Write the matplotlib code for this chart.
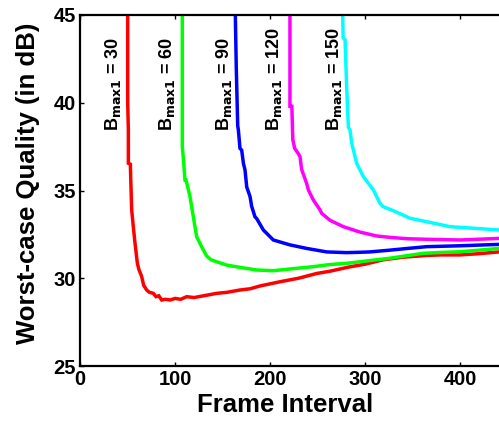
import matplotlib
matplotlib.use("Agg")
import matplotlib.pyplot as plt

plt.rcParams['font.family'] = ['Liberation Sans', 'DejaVu Sans']
plt.rcParams['font.weight'] = 'bold'
plt.rcParams['mathtext.default'] = 'bf'

# ---- data ----
x30 = [50.2, 50.2, 50.9, 50.9, 53.0, 53.5, 54.4, 56, 57.9, 60.4, 62, 64.9, 67, 70.2, 73, 77.2, 80, 83, 86, 90,
       94.7, 100, 106, 112.3, 120, 130, 143.9, 155, 168.4, 179, 189.5, 210.5, 230, 249, 263, 284, 300, 319, 340,
       365, 380, 400, 420, 441, 450]
y30 = [45, 40, 38.45, 36.55, 36.5, 35.5, 33.9, 33.0, 32.0, 30.85, 30.5, 30.1, 29.6, 29.33, 29.2, 29.14, 28.95, 29.0,
       28.76, 28.8, 28.76, 28.85, 28.8, 28.95, 28.9, 29.0, 29.14, 29.2, 29.33, 29.4, 29.56, 29.8, 30.0, 30.27, 30.4,
       30.65, 30.8, 31.05, 31.2, 31.3, 31.33, 31.33, 31.4, 31.5, 31.55]

x60 = [107.7, 107.7, 108.8, 110.5, 111.6, 115.8, 119.3, 122.8, 128, 133.3, 138, 143.9, 154.4, 168.4, 182.5, 186,
       203.5, 225, 245.6, 263, 280.7, 294.7, 326, 361, 380, 400, 420, 441, 450]
y60 = [45, 37.5, 36.83, 35.6, 35.6, 34.65, 33.5, 32.37, 31.8, 31.27, 31.05, 30.94, 30.75, 30.62, 30.5, 30.47, 30.43,
       30.55, 30.66, 30.78, 30.85, 30.94, 31.14, 31.42, 31.47, 31.51, 31.6, 31.7, 31.75]

x90 = [163.5, 164.5, 166, 166.7, 168.4, 170.2, 172, 173.7, 175.5, 179, 180.7, 184.2, 186, 193, 203.5, 221, 238.6,
       259.7, 280.7, 294.7, 305, 326, 345, 365, 400, 441, 450]
y90 = [45, 42, 38.7, 38.45, 37.4, 37.3, 36.55, 36.17, 35.2, 34.65, 34.1, 33.5, 33.4, 32.75, 32.18, 31.9, 31.7, 31.5,
       31.46, 31.48, 31.5, 31.6, 31.7, 31.8, 31.85, 31.93, 31.97]

x120 = [221, 221, 223, 224, 226, 229.8, 231.6, 233.3, 238.6, 240.4, 245.6, 252.6, 254.4, 263.2, 277.2, 294.7,
        312.3, 326, 345, 365, 400, 441, 450]
y120 = [45, 39.8, 39.8, 37.9, 37.4, 37.1, 36.93, 36.2, 35.4, 35.03, 34.46, 33.9, 33.7, 33.3, 32.94, 32.63, 32.41,
        32.33, 32.25, 32.22, 32.18, 32.27, 32.3]

x150 = [276.5, 277, 279, 280.7, 282.5, 284.2, 286, 289.5, 291.2, 298.2, 308.8, 315.8, 319, 329.8, 347.4, 365,
        389.5, 414, 441, 450]
y150 = [45, 43.7, 43.6, 40.9, 38.6, 38.45, 37.7, 36.93, 36.55, 35.8, 35.03, 34.27, 34.08, 33.85, 33.42, 33.22,
        32.94, 32.85, 32.75, 32.72]

series = [(x30, y30, '#ff0000'), (x60, y60, '#00ff00'), (x90, y90, '#0000ff'),
          (x120, y120, '#ff00ff'), (x150, y150, '#00ffff')]

label_vals = ['30', '60', '90', '120', '150']
label_x = [34.7, 91.6, 151.6, 204, 267]
label_y = 38.4

xticks = [0, 100, 200, 300, 400]
yticks = [25, 30, 35, 40, 45]

fig = plt.figure(figsize=(4.99, 4.25), dpi=100)
ax = fig.add_axes([80/499, 59/425, 427.5/499, 351/425])

for xs, ys, c in series:
    ax.plot(xs, ys, color=c, lw=2.5, solid_joinstyle='miter')

for v, lx in zip(label_vals, label_x):
    ax.text(lx, label_y, r'B$_{\mathbf{max1}}$ = ' + v, rotation=90, ha='center', va='bottom',
            fontsize=13, fontweight='bold')

ax.set_xlim(0, 450)
ax.set_ylim(25, 45)
ax.set_xticks(xticks)
ax.set_yticks(yticks)
ax.tick_params(direction='in', top=True, right=True, length=3, width=1, labelsize=14.5, pad=3)
for lab in ax.get_xticklabels() + ax.get_yticklabels():
    lab.set_fontweight('bold')
for s in ax.spines.values():
    s.set_linewidth(1.6)

ax.set_xlabel('Frame Interval', fontsize=18.5, fontweight='bold', va='top')
ax.set_ylabel('Worst-case Quality (in dB)', fontsize=18.5, fontweight='bold', va='center')
ax.xaxis.set_label_coords((285-80)/427.5, -(393-366)/351, transform=ax.transAxes)
ax.yaxis.set_label_coords(-(80-28)/427.5, 0.5 + (190.5-183)/351, transform=ax.transAxes)

fig.savefig('out.png', dpi=100)
